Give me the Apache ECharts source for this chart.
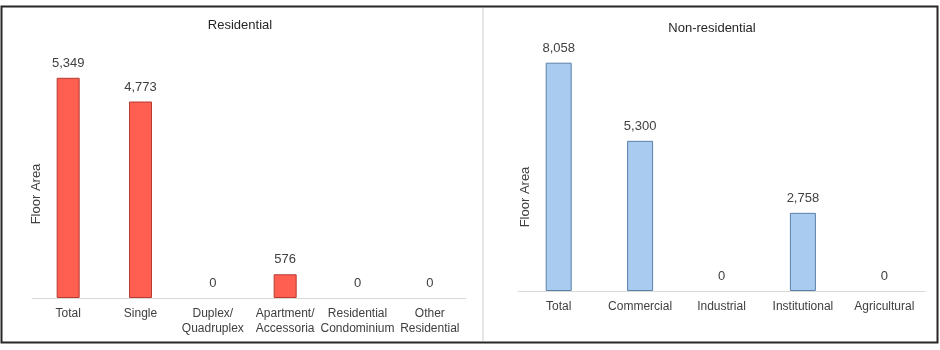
<!DOCTYPE html>
<html>
<head>
<meta charset="utf-8">
<script src="https://cdn.jsdelivr.net/npm/echarts@6/dist/echarts.min.js"></script>
<style>
html,body{margin:0;padding:0;background:#fff;}
#c{width:940px;height:350px;}
</style>
</head>
<body>
<div id="c"></div>
<script>
const resCategories = ['Total', 'Single', 'Duplex/\nQuadruplex', 'Apartment/\nAccessoria', 'Residential\nCondominium', 'Other\nResidential'];
const resValues = [5349, 4773, 0, 576, 0, 0];
const nonResCategories = ['Total', 'Commercial', 'Industrial', 'Institutional', 'Agricultural'];
const nonResValues = [8058, 5300, 0, 2758, 0];
const titles = ['Residential', 'Non-residential'];
const yAxisTitle = 'Floor Area';

const FONT = '"Liberation Sans", Arial, sans-serif';
const TXT = '#404040';
const chart = echarts.init(document.getElementById('c'), null, {renderer: 'canvas'});
const fmt = p => Number(p.value).toLocaleString('en-US');

function xAxis(gi, cats) {
  return {
    type: 'category', gridIndex: gi, data: cats,
    axisLine: {lineStyle: {color: '#d9d9d9', width: 1}},
    axisTick: {show: false},
    axisLabel: {color: TXT, fontSize: 12, fontFamily: FONT, lineHeight: 15, margin: 8, interval: 0}
  };
}
function yAxis(gi, max) {
  return {
    type: 'value', gridIndex: gi, min: 0, max: max,
    show: false, splitLine: {show: false}
  };
}
function series(gi, vals, fill, stroke, bw) {
  return {
    type: 'bar', xAxisIndex: gi, yAxisIndex: gi, barWidth: bw,
    data: vals.map(v => v === 0 ? {value: v, itemStyle: {borderWidth: 0, opacity: 0}} : v),
    itemStyle: {color: fill, borderColor: stroke, borderWidth: 1},
    label: {show: true, position: 'top', distance: 8, color: TXT, fontSize: 13, fontFamily: FONT, formatter: fmt, opacity: 1},
    silent: true, animation: false
  };
}

chart.setOption({
  animation: false,
  textStyle: {fontFamily: FONT},
  title: [
    {text: titles[0], left: 240, top: 19, textAlign: 'center', padding: 0,
     textStyle: {fontSize: 13, fontWeight: 'normal', color: '#262626', fontFamily: FONT}},
    {text: titles[1], left: 712, top: 22, textAlign: 'center', padding: 0,
     textStyle: {fontSize: 13, fontWeight: 'normal', color: '#262626', fontFamily: FONT}}
  ],
  grid: [
    {left: 32, right: 474, top: 51, bottom: 52},
    {left: 518, right: 15, top: 36, bottom: 59}
  ],
  xAxis: [xAxis(0, resCategories), xAxis(1, nonResCategories)],
  yAxis: [yAxis(0, 6000), yAxis(1, 9000)],
  series: [
    series(0, resValues, '#FF5F50', '#B63A2F', 23),
    series(1, nonResValues, '#A8CBEF', '#5B80A8', 26)
  ],
  graphic: [
    {type: 'rect', shape: {x: 1.5, y: 6.5, width: 936, height: 336},
     style: {fill: 'none', stroke: '#262626', lineWidth: 2}, silent: true},
    {type: 'line', shape: {x1: 483, y1: 8, x2: 483, y2: 341},
     style: {stroke: '#e6e6e6', lineWidth: 2}, silent: true},
    {type: 'text', x: 36, y: 194, rotation: Math.PI / 2,
     style: {text: yAxisTitle, fill: TXT, font: '13px ' + FONT, textAlign: 'center', textVerticalAlign: 'middle'}},
    {type: 'text', x: 525, y: 197, rotation: Math.PI / 2,
     style: {text: yAxisTitle, fill: TXT, font: '13px ' + FONT, textAlign: 'center', textVerticalAlign: 'middle'}}
  ]
});
</script>
</body>
</html>
